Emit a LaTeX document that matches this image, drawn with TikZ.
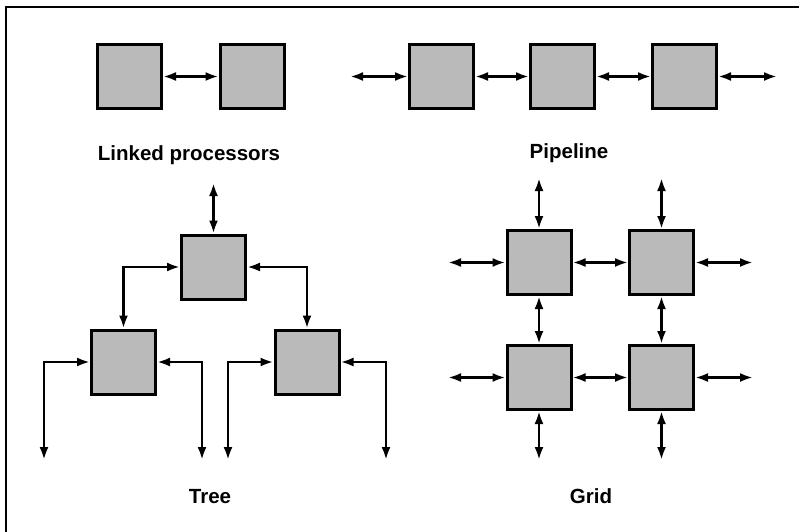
\documentclass[tikz,border=0pt]{standalone}
\usepackage{fontspec}
\setmainfont{Liberation Sans}
\usetikzlibrary{arrows.meta}

\tikzset{
    proc/.style={draw, line width=3pt, fill=black!27, minimum size=64pt, inner sep=0pt},
    link/.style={line width=2.5pt, {Latex[length=13pt,width=9pt]}-{Latex[length=13pt,width=9pt]}},
    title/.style={anchor=base, font=\fontsize{20.5}{24}\selectfont\bfseries}
}

\begin{document}
\begin{tikzpicture}[x=1pt, y=-1pt]
        \useasboundingbox (0,0) rectangle (799,531);
        \clip (0,0) rectangle (799,531);
        \draw[line width=2.2pt] (6,540) -- (6,7) -- (805,7);

        % linked processors
        \node[proc] (lp1) at (129.5,76.5) {};
        \node[proc] (lp2) at (252,76.5) {};
        \draw[link] (lp1) -- (lp2);
        \node[title] (lptext) at (189,160) {Linked processors};

        %%%

        % pipeline
        \node[proc] (pp1) at (441.5,76.5) {};
        \node[proc] (pp2) at (562.5,76.5) {};
        \node[proc] (pp3) at (684.5,76.5) {};
        \coordinate (ppin) at (350,76.5);
        \coordinate (ppout) at (777,76.5);
        \draw[link] (ppin) -- (pp1);
        \draw[link] (pp1) -- (pp2);
        \draw[link] (pp2) -- (pp3);
        \draw[link] (pp3) -- (ppout);
        \node[title] (pptext) at (569,158) {Pipeline};

        %%%

        % tree
        \node[proc] (tr0) at (213.5,267) {};
        \node[proc] (tr1) at (123.5,362) {};
        \node[proc] (tr2) at (307,362) {};
        \coordinate (trtop) at (213.5,183);
        \coordinate (trl1) at (44,460);
        \coordinate (trl2) at (202,460);
        \coordinate (trl3) at (228,460);
        \coordinate (trl4) at (386,460);
        \draw[link] (trtop) -- (tr0);
        \draw[link] (tr0.west) -| (tr1.north);
        \draw[link] (tr0.east) -| (tr2.north);
        \draw[link] (trl1) |- (tr1.west);
        \draw[link] (trl2) |- (tr1.east);
        \draw[link] (trl3) |- (tr2.west);
        \draw[link] (trl4) |- (tr2.east);
        \node[title] (trtext) at (210,503) {Tree};

        %%%

        % grid
        \node[proc] (g11) at (539,262.5) {};
        \node[proc] (g12) at (661.5,262.5) {};
        \node[proc] (g21) at (539,377.5) {};
        \node[proc] (g22) at (661.5,377.5) {};
        \foreach \c/\x in {1/539, 2/661.5} {
            \coordinate (gn\c) at (\x,178);
            \coordinate (gs\c) at (\x,460);
            \draw[link] (gn\c) -- (g1\c);
            \draw[link] (g1\c) -- (g2\c);
            \draw[link] (g2\c) -- (gs\c);
        }
        \foreach \r/\y in {1/262.5, 2/377.5} {
            \coordinate (gw\r) at (448,\y);
            \coordinate (ge\r) at (753,\y);
            \draw[link] (gw\r) -- (g\r1);
            \draw[link] (g\r1) -- (g\r2);
            \draw[link] (g\r2) -- (ge\r);
        }
        \node[title] (gtext) at (591,503) {Grid};
    \end{tikzpicture}
\end{document}
